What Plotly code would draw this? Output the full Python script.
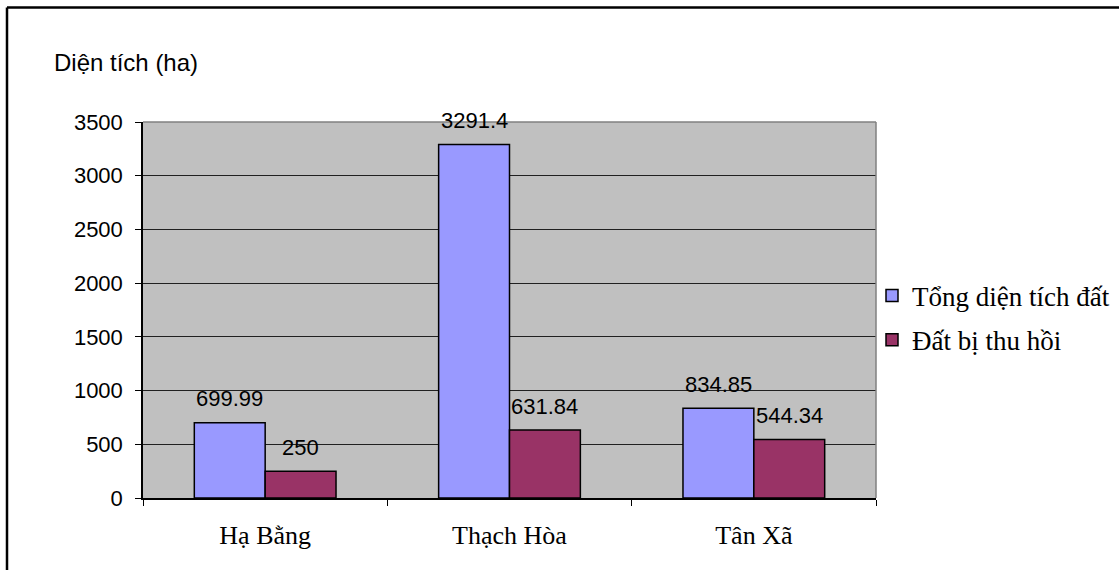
import plotly.graph_objects as go

categories = ["Hạ Bằng", "Thạch Hòa", "Tân Xã"]
series_names = ["Tổng diện tích đất", "Đất bị thu hồi"]
total_area = [699.99, 3291.4, 834.85]
recovered_area = [250, 631.84, 544.34]
y_ticks = [0, 500, 1000, 1500, 2000, 2500, 3000, 3500]
y_title = "Diện tích (ha)"

colors = ["#9999FF", "#993366"]

W, H = 1119, 570
L, R, T, B = 143, 243, 122, 72
pw, ph = W - L - R, H - T - B


def px_x(px):
    return (px - L) / pw


def px_y(py):
    return (H - B - py) / ph


fig = go.Figure()
for name, vals, col, grp in zip(series_names, [total_area, recovered_area], colors, ["g1", "g2"]):
    fig.add_trace(go.Bar(
        x=categories, y=vals, name=name, legendgroup=grp,
        marker=dict(color=col, line=dict(color="black", width=1.5)),
    ))

bargap = 0.42
bar_w = pw / len(categories) * (1 - bargap) / 2
annotations = []
for vals, sh in [(total_area, -bar_w / 2), (recovered_area, bar_w / 2)]:
    for c, v in zip(categories, vals):
        annotations.append(dict(
            x=c, y=v, xref="x", yref="y", text=f"{v:g}", showarrow=False,
            xshift=sh, yshift=24, yanchor="middle", xanchor="center",
            font=dict(family="Liberation Sans, Arial", size=22, color="black"),
        ))
annotations.append(dict(
    x=px_x(52), y=px_y(62), xref="paper", yref="paper", text=y_title,
    showarrow=False, xanchor="left", yanchor="middle",
    font=dict(family="Liberation Sans, Arial", size=24, color="black"),
))

shapes = [
    dict(type="line", xref="paper", yref="paper", x0=0, x1=1, y0=1, y1=1,
         line=dict(color="#808080", width=1.5), layer="above"),
    dict(type="line", xref="paper", yref="paper", x0=1, x1=1, y0=0, y1=1,
         line=dict(color="#808080", width=1.5), layer="above"),
    dict(type="line", xref="paper", yref="paper", x0=px_x(7), x1=px_x(1130), y0=px_y(7.5), y1=px_y(7.5),
         line=dict(color="black", width=2.5), layer="above"),
    dict(type="line", xref="paper", yref="paper", x0=px_x(7), x1=px_x(7), y0=px_y(7.5), y1=px_y(600),
         line=dict(color="black", width=2.5), layer="above"),
]

fig.update_layout(
    width=W, height=H,
    margin=dict(l=L, r=R, t=T, b=B, pad=0, autoexpand=False),
    paper_bgcolor="white", plot_bgcolor="#C0C0C0",
    barmode="group", bargap=bargap, bargroupgap=0,
    annotations=annotations, shapes=shapes,
    showlegend=True,
    legend=dict(
        x=px_x(872), y=px_y(318), xanchor="left", yanchor="middle",
        font=dict(family="Liberation Serif, Times New Roman", size=27, color="black"),
        tracegroupgap=6, itemwidth=30, bgcolor="rgba(0,0,0,0)",
    ),
    xaxis=dict(
        type="category", tickson="boundaries", ticks="outside", ticklen=6,
        tickcolor="black", showline=True, linecolor="black", linewidth=1.5,
        showgrid=False, tickfont=dict(family="Liberation Serif, Times New Roman", size=26, color="black"),
        ticklabelstandoff=13,
    ),
    yaxis=dict(
        range=[0, 3500], tickvals=y_ticks, ticks="outside", ticklen=6, tickcolor="black",
        showline=True, linecolor="black", linewidth=1.5, showgrid=True,
        gridcolor="#202020", gridwidth=1, zeroline=False,
        tickfont=dict(family="Liberation Sans, Arial", size=22, color="black"),
        ticklabelstandoff=8,
    ),
)

fig.write_html("out.html")
